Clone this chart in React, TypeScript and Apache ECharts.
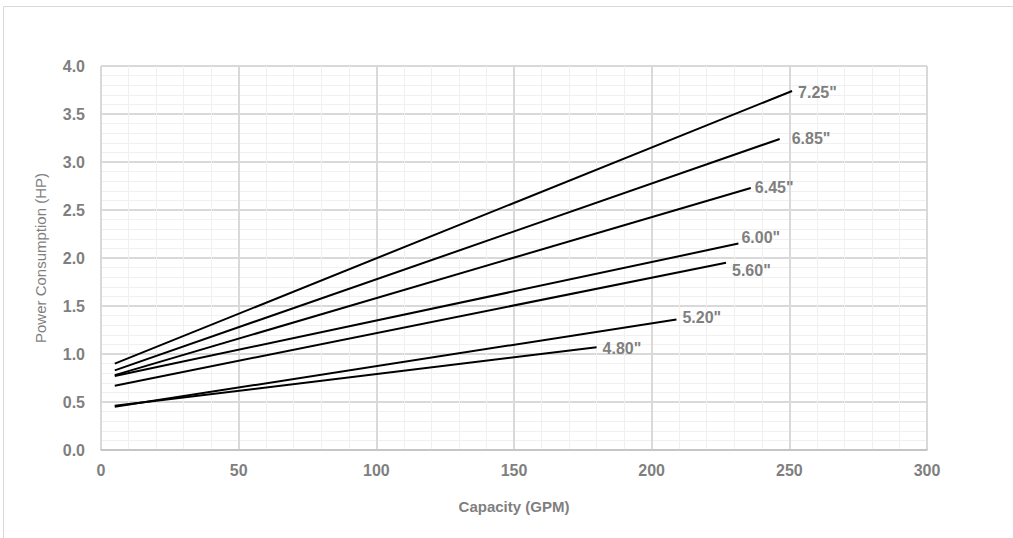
import React, { useEffect, useRef } from "react";
import * as echarts from "echarts";

const seriesNames = ['7.25"', '6.85"', '6.45"', '6.00"', '5.60"', '5.20"', '4.80"'];
const startGpm = [5, 5, 5, 5, 5, 5, 5];
const startHp = [0.9, 0.83, 0.78, 0.77, 0.67, 0.45, 0.46];
const endGpm = [251, 246.5, 236, 231.5, 227, 209, 180];
const endHp = [3.74, 3.24, 2.73, 2.15, 1.95, 1.36, 1.07];
const xTicks = [0, 50, 100, 150, 200, 250, 300];
const yTicks = [0, 0.5, 1, 1.5, 2, 2.5, 3, 3.5, 4];

const labelOffsets: [number, number][] = [
  [6, 2], [12, 0], [4, 0], [3, -6], [6, 8], [6, -2], [6, 1],
];

const TEXT = "#7f7f7f";
const FONT = "Liberation Sans, Arial, sans-serif";

export default function App() {
  const ref = useRef<HTMLDivElement>(null);
  useEffect(() => {
    if (!ref.current) return;
    const chart = echarts.init(ref.current, undefined, { renderer: "svg" });
    const series = seriesNames.map((name, i) => ({
      type: "line",
      name,
      showSymbol: false,
      symbol: "none",
      lineStyle: { color: "#000", width: 2 },
      endLabel: {
        show: true,
        distance: 0,
        offset: labelOffsets[i],
        formatter: name,
        color: TEXT,
        fontWeight: "bold",
        fontSize: 16,
        fontFamily: FONT,
      },
      data: [
        [startGpm[i], startHp[i]],
        [endGpm[i], endHp[i]],
      ],
    }));
    chart.setOption({
      animation: false,
      backgroundColor: "#fff",
      textStyle: { fontFamily: FONT },
      grid: { left: 101, right: 86, top: 66, bottom: 88, containLabel: false },
      graphic: [
        {
          type: "rect",
          shape: { x: 3.5, y: 6.5, width: 1040, height: 560 },
          style: { fill: "none", stroke: "#d9d9d9", lineWidth: 1 },
          silent: true,
        },
      ],
      xAxis: {
        type: "value",
        min: xTicks[0],
        max: xTicks[xTicks.length - 1],
        interval: 50,
        name: "Capacity (GPM)",
        nameLocation: "middle",
        nameGap: 49,
        nameTextStyle: { color: TEXT, fontSize: 15, fontWeight: "bold", fontFamily: FONT },
        axisLine: { show: true, lineStyle: { color: "#bfbfbf", width: 1.5 } },
        axisTick: { show: false },
        axisLabel: { color: TEXT, fontSize: 16, fontWeight: "bold", margin: 12, fontFamily: FONT },
        splitLine: { show: true, lineStyle: { color: "#d9d9d9", width: 2 } },
        minorTick: { show: false, splitNumber: 5 },
        minorSplitLine: { show: true, lineStyle: { color: "#f0f0f0", width: 1 } },
      },
      yAxis: {
        type: "value",
        min: yTicks[0],
        max: yTicks[yTicks.length - 1],
        interval: 0.5,
        name: "Power Consumption (HP)",
        nameLocation: "middle",
        nameGap: 53,
        nameRotate: 90,
        nameTextStyle: { color: TEXT, fontSize: 15, fontFamily: FONT },
        axisLine: { show: false },
        axisTick: { show: false },
        axisLabel: {
          color: TEXT,
          fontSize: 16,
          fontWeight: "bold",
          margin: 16,
          fontFamily: FONT,
          formatter: (v: number) => v.toFixed(1),
        },
        splitLine: { show: true, lineStyle: { color: "#d9d9d9", width: 2 } },
        minorTick: { show: false, splitNumber: 5 },
        minorSplitLine: { show: true, lineStyle: { color: "#f0f0f0", width: 1 } },
      },
      series,
    });
    return () => chart.dispose();
  }, []);
  return (
    <div
      ref={ref}
      style={{ position: "fixed", left: 0, top: 0, width: 1013, height: 538 }}
    />
  );
}
